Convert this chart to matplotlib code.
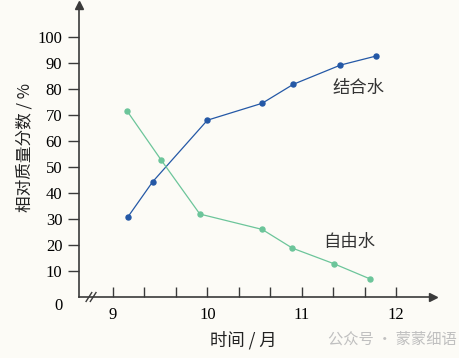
import matplotlib.pyplot as plt
import numpy as np

# data
bound_month = [9.16, 9.42, 10.0, 10.58, 10.91, 11.41, 11.79]
bound_water = [30.9, 44.3, 68.0, 74.5, 81.8, 89.2, 92.7]
free_month = [9.15, 9.51, 9.92, 10.58, 10.90, 11.34, 11.72]
free_water = [71.5, 52.7, 31.9, 26.0, 18.8, 12.8, 7.0]
x_ticks = [9 + k / 3 for k in range(10)]
x_labels = ["9", "", "", "10", "", "", "11", "", "", "12"]
y_ticks = list(range(10, 101, 10))

bg = "#fcfbf6"
axis_c = "#3a3a3a"
blue = "#2458a6"
green = "#6cc59a"
cjk = ["Noto Sans CJK SC", "DejaVu Sans"]
serif = "Liberation Serif"

fig = plt.figure(figsize=(4.59, 3.58), dpi=100, facecolor=bg)
ax = fig.add_axes([79 / 459, 61 / 358, 354 / 459, 292 / 358])
ax.set_facecolor(bg)

ax.plot(bound_month, bound_water, "-o", color=blue, lw=0.9, ms=3.6)
ax.plot(free_month, free_water, "-o", color=green, lw=0.9, ms=3.6)

ax.set_xlim(8.64, 12.39)
ax.set_ylim(0, 112.3)

for s in ["top", "right"]:
    ax.spines[s].set_visible(False)
for s in ["left", "bottom"]:
    ax.spines[s].set_color(axis_c)
    ax.spines[s].set_linewidth(1.2)

# axis arrows
ax.plot(1, 0, ">", color=axis_c, ms=6, transform=ax.transAxes, clip_on=False)
ax.plot(0, 1, "^", color=axis_c, ms=6, transform=ax.transAxes, clip_on=False)

ax.set_xticks(x_ticks)
ax.set_xticklabels(x_labels, fontfamily=serif, fontsize=12)
ax.tick_params(axis="x", direction="in", length=7, width=1, color=axis_c, pad=7)
ax.set_yticks(y_ticks)
ax.set_yticklabels([str(v) for v in y_ticks], fontfamily=serif, fontsize=12)
ax.tick_params(axis="y", direction="out", length=8, width=1, color=axis_c, pad=4)

# origin label and axis break
ax.text(-0.045, -0.03, "0", transform=ax.transAxes, ha="right", va="center",
        fontfamily=serif, fontsize=12)
ax.plot([8.715, 8.775], [-1.7, 1.7], color=axis_c, lw=1, clip_on=False)
ax.plot([8.76, 8.82], [-1.7, 1.7], color=axis_c, lw=1, clip_on=False)

ax.text(11.6, 80.5, "结合水", family=cjk, fontsize=12.5, ha="center", va="center", color="#333333")
ax.text(11.5, 21.3, "自由水", family=cjk, fontsize=12.5, ha="center", va="center", color="#333333")

fig.text(25 / 459, 1 - 148 / 358, "相对质量分数 / %", family=cjk, fontsize=12,
         rotation=90, ha="center", va="center", color="#222222")
fig.text(243 / 459, 1 - 340 / 358, "时间 / 月", family=cjk, fontsize=12.5,
         ha="center", va="center", color="#222222")
fig.text(392 / 459, 1 - 339 / 358, "公众号 · 蒙蒙细语", family=cjk, fontsize=11,
         ha="center", va="center", color="#c0c0c0")

fig.savefig("out.png", dpi=100, facecolor=bg)
